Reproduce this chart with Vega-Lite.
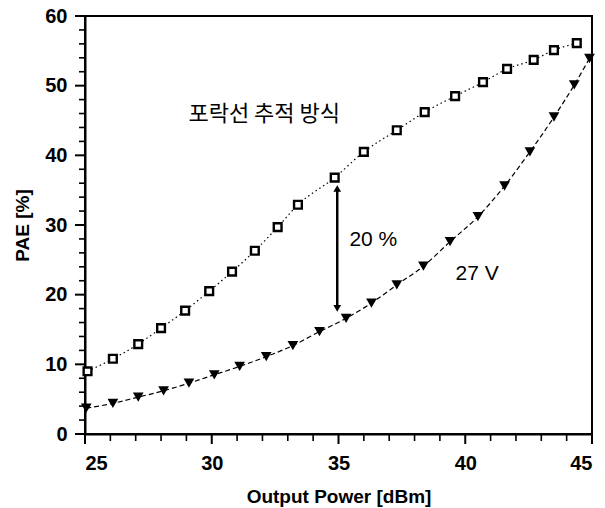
{
  "$schema": "https://vega.github.io/schema/vega-lite/v6.json",
  "width": 507,
  "height": 418,
  "autosize": "none",
  "padding": {"left": 85, "top": 16, "right": 13, "bottom": 74},
  "background": "white",
  "config": {
    "view": {"stroke": "black", "strokeWidth": 2},
    "axis": {
      "grid": false,
      "ticks": false,
      "domainColor": "black",
      "domainWidth": 2,
      "labelFont": "Liberation Sans",
      "labelFontWeight": "bold",
      "labelFontSize": 20,
      "labelColor": "black",
      "titleFont": "Liberation Sans",
      "titleFontWeight": "bold",
      "titleFontSize": 19,
      "titleColor": "black"
    }
  },
  "datasets": {
    "pae": [
      {"series": "포락선 추적 방식", "power": 25.1, "pae": 9.0},
      {"series": "포락선 추적 방식", "power": 26.1, "pae": 10.8},
      {"series": "포락선 추적 방식", "power": 27.1, "pae": 12.9},
      {"series": "포락선 추적 방식", "power": 28.0, "pae": 15.2},
      {"series": "포락선 추적 방식", "power": 28.95, "pae": 17.7},
      {"series": "포락선 추적 방식", "power": 29.9, "pae": 20.5},
      {"series": "포락선 추적 방식", "power": 30.8, "pae": 23.3},
      {"series": "포락선 추적 방식", "power": 31.7, "pae": 26.3},
      {"series": "포락선 추적 방식", "power": 32.6, "pae": 29.7},
      {"series": "포락선 추적 방식", "power": 33.4, "pae": 32.9},
      {"series": "포락선 추적 방식", "power": 34.85, "pae": 36.8},
      {"series": "포락선 추적 방식", "power": 36.0, "pae": 40.5},
      {"series": "포락선 추적 방식", "power": 37.3, "pae": 43.6},
      {"series": "포락선 추적 방식", "power": 38.4, "pae": 46.2},
      {"series": "포락선 추적 방식", "power": 39.6, "pae": 48.5},
      {"series": "포락선 추적 방식", "power": 40.7, "pae": 50.5},
      {"series": "포락선 추적 방식", "power": 41.65, "pae": 52.4},
      {"series": "포락선 추적 방식", "power": 42.7, "pae": 53.7},
      {"series": "포락선 추적 방식", "power": 43.5, "pae": 55.1},
      {"series": "포락선 추적 방식", "power": 44.4, "pae": 56.1},
      {"series": "27 V", "power": 25.05, "pae": 3.7},
      {"series": "27 V", "power": 26.1, "pae": 4.4},
      {"series": "27 V", "power": 27.1, "pae": 5.3},
      {"series": "27 V", "power": 28.1, "pae": 6.2},
      {"series": "27 V", "power": 29.1, "pae": 7.3},
      {"series": "27 V", "power": 30.1, "pae": 8.5},
      {"series": "27 V", "power": 31.1, "pae": 9.7},
      {"series": "27 V", "power": 32.15, "pae": 11.1},
      {"series": "27 V", "power": 33.2, "pae": 12.7},
      {"series": "27 V", "power": 34.25, "pae": 14.7},
      {"series": "27 V", "power": 35.3, "pae": 16.6},
      {"series": "27 V", "power": 36.3, "pae": 18.8},
      {"series": "27 V", "power": 37.3, "pae": 21.4},
      {"series": "27 V", "power": 38.35, "pae": 24.1},
      {"series": "27 V", "power": 39.4, "pae": 27.6},
      {"series": "27 V", "power": 40.5, "pae": 31.2},
      {"series": "27 V", "power": 41.55, "pae": 35.6},
      {"series": "27 V", "power": 42.55, "pae": 40.5},
      {"series": "27 V", "power": 43.5, "pae": 45.5},
      {"series": "27 V", "power": 44.3, "pae": 50.1},
      {"series": "27 V", "power": 44.9, "pae": 53.9}
    ],
    "xticks": [
      {"value": 25, "major": true}, {"value": 26, "major": false}, {"value": 27, "major": false}, {"value": 28, "major": false}, {"value": 29, "major": false},
      {"value": 30, "major": true}, {"value": 31, "major": false}, {"value": 32, "major": false}, {"value": 33, "major": false}, {"value": 34, "major": false},
      {"value": 35, "major": true}, {"value": 36, "major": false}, {"value": 37, "major": false}, {"value": 38, "major": false}, {"value": 39, "major": false},
      {"value": 40, "major": true}, {"value": 41, "major": false}, {"value": 42, "major": false}, {"value": 43, "major": false}, {"value": 44, "major": false},
      {"value": 45, "major": true}
    ],
    "yticks": [
      {"value": 0, "major": true}, {"value": 2, "major": false}, {"value": 4, "major": false}, {"value": 6, "major": false}, {"value": 8, "major": false},
      {"value": 10, "major": true}, {"value": 12, "major": false}, {"value": 14, "major": false}, {"value": 16, "major": false}, {"value": 18, "major": false},
      {"value": 20, "major": true}, {"value": 22, "major": false}, {"value": 24, "major": false}, {"value": 26, "major": false}, {"value": 28, "major": false},
      {"value": 30, "major": true}, {"value": 32, "major": false}, {"value": 34, "major": false}, {"value": 36, "major": false}, {"value": 38, "major": false},
      {"value": 40, "major": true}, {"value": 42, "major": false}, {"value": 44, "major": false}, {"value": 46, "major": false}, {"value": 48, "major": false},
      {"value": 50, "major": true}, {"value": 52, "major": false}, {"value": 54, "major": false}, {"value": 56, "major": false}, {"value": 58, "major": false},
      {"value": 60, "major": true}
    ],
    "labels": [
      {"label": "포락선 추적 방식", "power": 32.07, "pae": 45.9, "kind": "ko"},
      {"label": "20 %", "power": 35.43, "pae": 27.8, "kind": "en"},
      {"label": "27 V", "power": 39.62, "pae": 22.9, "kind": "en"}
    ],
    "arrow": [
      {"power": 34.95, "from": 18.03, "to": 35.24}
    ],
    "heads": [
      {"power": 34.95, "pae": 35.24, "dir": "up"},
      {"power": 34.95, "pae": 18.03, "dir": "down"}
    ]
  },
  "layer": [
    {
      "data": {"name": "pae"},
      "transform": [{"filter": "datum.series === '포락선 추적 방식'"}],
      "mark": {"type": "line", "color": "black", "strokeWidth": 1.2, "strokeDash": [1.5, 3], "interpolate": "monotone"},
      "encoding": {
        "x": {"field": "power", "type": "quantitative", "scale": {"domain": [25, 45], "nice": false, "zero": false},
              "axis": {"orient": "bottom", "values": [25, 30, 35, 40, 45], "labelPadding": 19, "title": "Output Power [dBm]", "titlePadding": 14}},
        "y": {"field": "pae", "type": "quantitative", "scale": {"domain": [0, 60], "nice": false},
              "axis": {"orient": "left", "values": [0, 10, 20, 30, 40, 50, 60], "labelPadding": 18, "title": "PAE [%]", "titlePadding": 12}}
      }
    },
    {
      "data": {"name": "xticks"},
      "transform": [{"filter": "datum.major"}],
      "mark": {"type": "tick", "orient": "vertical", "color": "black", "opacity": 1, "size": 10, "thickness": 2, "yOffset": 5},
      "encoding": {
        "x": {"field": "value", "type": "quantitative"},
        "y": {"datum": 0, "type": "quantitative"}
      }
    },
    {
      "data": {"name": "xticks"},
      "transform": [{"filter": "!datum.major"}],
      "mark": {"type": "tick", "orient": "vertical", "color": "black", "opacity": 1, "size": 7, "thickness": 1.6, "yOffset": 3.5},
      "encoding": {
        "x": {"field": "value", "type": "quantitative"},
        "y": {"datum": 0, "type": "quantitative"}
      }
    },
    {
      "data": {"name": "yticks"},
      "transform": [{"filter": "datum.major"}],
      "mark": {"type": "tick", "orient": "horizontal", "color": "black", "opacity": 1, "size": 10, "thickness": 2, "xOffset": -5},
      "encoding": {
        "y": {"field": "value", "type": "quantitative"},
        "x": {"datum": 25, "type": "quantitative"}
      }
    },
    {
      "data": {"name": "yticks"},
      "transform": [{"filter": "!datum.major"}],
      "mark": {"type": "tick", "orient": "horizontal", "color": "black", "opacity": 1, "size": 6, "thickness": 1.6, "xOffset": -3},
      "encoding": {
        "y": {"field": "value", "type": "quantitative"},
        "x": {"datum": 25, "type": "quantitative"}
      }
    },
    {
      "data": {"name": "pae"},
      "transform": [{"filter": "datum.series === '27 V'"}],
      "mark": {"type": "line", "color": "black", "strokeWidth": 1.2, "strokeDash": [5, 3], "interpolate": "monotone"},
      "encoding": {
        "x": {"field": "power", "type": "quantitative"},
        "y": {"field": "pae", "type": "quantitative"}
      }
    },
    {
      "data": {"name": "pae"},
      "transform": [{"filter": "datum.series === '포락선 추적 방식'"}],
      "mark": {"type": "point", "shape": "square", "filled": false, "fill": "white", "fillOpacity": 1, "stroke": "black", "strokeWidth": 2.4, "size": 60, "opacity": 1},
      "encoding": {
        "x": {"field": "power", "type": "quantitative"},
        "y": {"field": "pae", "type": "quantitative"}
      }
    },
    {
      "data": {"name": "pae"},
      "transform": [{"filter": "datum.series === '27 V'"}],
      "mark": {"type": "point", "shape": "triangle-down", "filled": true, "color": "black", "size": 115, "opacity": 1},
      "encoding": {
        "x": {"field": "power", "type": "quantitative"},
        "y": {"field": "pae", "type": "quantitative"}
      }
    },
    {
      "data": {"name": "arrow"},
      "mark": {"type": "rule", "color": "black", "strokeWidth": 2.5},
      "encoding": {
        "x": {"field": "power", "type": "quantitative"},
        "y": {"field": "from", "type": "quantitative"},
        "y2": {"field": "to"}
      }
    },
    {
      "data": {"name": "heads"},
      "mark": {"type": "point", "filled": true, "color": "black", "size": 60, "opacity": 1},
      "encoding": {
        "x": {"field": "power", "type": "quantitative"},
        "y": {"field": "pae", "type": "quantitative"},
        "shape": {"field": "dir", "type": "nominal", "scale": {"domain": ["up", "down"], "range": ["triangle-up", "triangle-down"]}, "legend": null}
      }
    },
    {
      "data": {"name": "labels"},
      "transform": [{"filter": "datum.kind === 'ko'"}],
      "mark": {"type": "text", "font": "Noto Sans CJK KR", "fontSize": 22, "color": "black", "align": "center", "baseline": "middle"},
      "encoding": {
        "x": {"field": "power", "type": "quantitative"},
        "y": {"field": "pae", "type": "quantitative"},
        "text": {"field": "label"}
      }
    },
    {
      "data": {"name": "labels"},
      "transform": [{"filter": "datum.kind === 'en'"}],
      "mark": {"type": "text", "font": "Liberation Sans", "fontSize": 21, "color": "black", "align": "left", "baseline": "middle"},
      "encoding": {
        "x": {"field": "power", "type": "quantitative"},
        "y": {"field": "pae", "type": "quantitative"},
        "text": {"field": "label"}
      }
    }
  ]
}
